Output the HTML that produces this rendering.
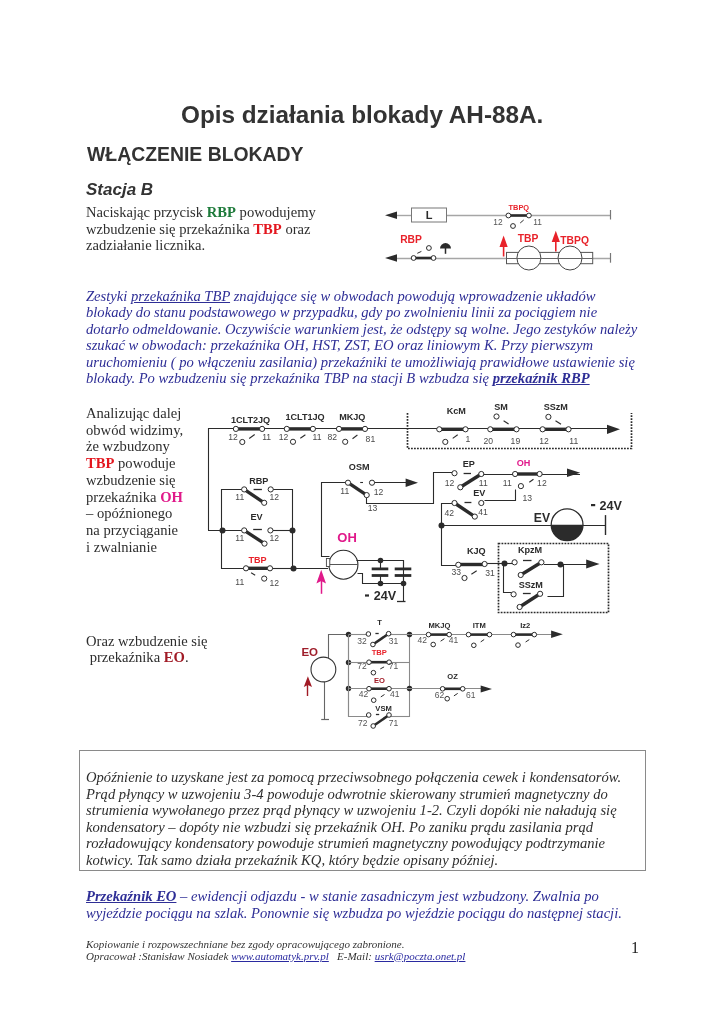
<!DOCTYPE html>
<html><head><meta charset="utf-8">
<style>
html,body{margin:0;padding:0;background:#fff;}
body{width:724px;height:1024px;position:relative;overflow:hidden;-webkit-font-smoothing:antialiased;}
.t,svg{will-change:transform;}
.t{position:absolute;white-space:nowrap;left:86px;}
.sans{font-family:"Liberation Sans",sans-serif;}
.serif{font-family:"Liberation Serif",serif;}
.h1{font:bold 24.3px "Liberation Sans",sans-serif;color:#333;left:181px;top:101px;}
.h2{font:bold 19.4px "Liberation Sans",sans-serif;color:#333;top:143.3px;left:86.5px;}
.h3{font:italic bold 17px "Liberation Sans",sans-serif;color:#333;top:180px;}
.p{font:14.6px/16.5px "Liberation Serif",serif;color:#2e2e2e;}
.bl{font:italic 14.6px/16.4px "Liberation Serif",serif;color:#2e2e96;}
.box{position:absolute;left:79px;top:750px;width:565px;height:119px;border:1px solid #8a8a8a;}
.bx{font:italic 14.6px/16.6px "Liberation Serif",serif;color:#2e2e2e;}
.ft{font:italic 11px/11.6px "Liberation Serif",serif;color:#333;}
.red{color:#e3161e;font-weight:bold;font-style:normal;}
.grn{color:#1d7a3a;font-weight:bold;}
.mag{color:#e0198a;font-weight:bold;}
.drd{color:#a11b26;font-weight:bold;}
svg{position:absolute;left:0;top:0;}
</style></head><body>
<div class="t h1">Opis działania blokady AH-88A.</div>
<div class="t h2">WŁĄCZENIE BLOKADY</div>
<div class="t h3">Stacja B</div>

<div class="t p" style="top:204px">Naciskając przycisk <span class="grn">RBP</span> powodujemy<br>wzbudzenie się przekaźnika <span class="red">TBP</span> oraz<br>zadziałanie licznika.</div>

<div class="t bl" style="top:288px">Zestyki <u>przekaźnika TBP</u> znajdujące się w obwodach powodują wprowadzenie układów<br>blokady do stanu podstawowego w przypadku, gdy po zwolnieniu linii za pociągiem nie<br>dotarło odmeldowanie. Oczywiście warunkiem jest, że odstępy są wolne. Jego zestyków należy<br>szukać w obwodach: przekaźnika OH, HST, ZST, EO oraz liniowym K. Przy pierwszym<br>uruchomieniu ( po włączeniu zasilania) przekaźniki te umożliwiają prawidłowe ustawienie się<br>blokady. Po wzbudzeniu się przekaźnika TBP na stacji B wzbudza się <b><u>przekaźnik RBP</u></b></div>

<div class="t p" style="top:405px;line-height:16.7px">Analizując dalej<br>obwód widzimy,<br>że wzbudzony<br><span class="red">TBP</span> powoduje<br>wzbudzenie się<br>przekaźnika <span class="mag">OH</span><br>– opóźnionego<br>na przyciąganie<br>i zwalnianie</div>

<div class="t p" style="top:633px;line-height:16.2px">Oraz wzbudzenie się<br>&nbsp;przekaźnika <span class="drd">EO</span>.</div>

<div class="box"></div>
<div class="t bx" style="top:769px">Opóźnienie to uzyskane jest za pomocą przeciwsobnego połączenia cewek i kondensatorów.<br>Prąd płynący w uzwojeniu 3-4 powoduje odwrotnie skierowany strumień magnetyczny do<br>strumienia wywołanego przez prąd płynący w uzwojeniu 1-2. Czyli dopóki nie naładują się<br>kondensatory – dopóty nie wzbudzi się przekaźnik OH. Po zaniku prądu zasilania prąd<br>rozładowujący kondensatory powoduje strumień magnetyczny powodujący podtrzymanie<br>kotwicy. Tak samo działa przekaźnik KQ, który będzie opisany później.</div>

<div class="t bl" style="top:887.5px;line-height:16.6px"><b><u>Przekaźnik EO</u></b> – ewidencji odjazdu - w stanie zasadniczym jest wzbudzony. Zwalnia po<br>wyjeździe pociągu na szlak. Ponownie się wzbudza po wjeździe pociągu do następnej stacji.</div>

<div class="t ft" style="top:939px">Kopiowanie i rozpowszechniane bez zgody opracowującego zabronione.<br>Opracował :Stanisław Nosiadek <u style="color:#2a2aa0">www.automatyk.prv.pl</u> &nbsp; E-Mail: <u style="color:#2a2aa0">usrk@poczta.onet.pl</u></div>
<div class="t serif" style="left:631px;top:938.5px;font-size:16px;color:#222">1</div>


















<svg id="dg" width="724" height="1024" viewBox="0 0 724 1024" style="position:absolute;left:0;top:0" font-family="Liberation Sans, sans-serif">
<line x1="396" y1="215.5" x2="411.5" y2="215.5" stroke="#a6a6a6" stroke-width="1.4" />
<line x1="446.5" y1="215.5" x2="610" y2="215.5" stroke="#a6a6a6" stroke-width="1.4" />
<polygon points="397,211.39999999999998 385,215.2 397,219.0" fill="#2b2b2b"/>
<rect x="411.5" y="208" width="35" height="14" fill="#fff" stroke="#777" stroke-width="1"/>
<text x="429" y="218.6" font-size="11" fill="#2b2b2b" font-weight="bold" text-anchor="middle" >L</text>
<line x1="610.5" y1="210" x2="610.5" y2="219.5" stroke="#777" stroke-width="1.2" />
<line x1="508.4" y1="215.5" x2="528.9" y2="215.5" stroke="#2b2b2b" stroke-width="2.6" />
<circle cx="508.4" cy="215.5" r="2.4" fill="#fff" stroke="#2b2b2b" stroke-width="1.0"/>
<circle cx="528.9" cy="215.5" r="2.4" fill="#fff" stroke="#2b2b2b" stroke-width="1.0"/>
<circle cx="513" cy="226" r="2.4" fill="#fff" stroke="#2b2b2b" stroke-width="1.0"/>
<line x1="520.2" y1="223" x2="523.7" y2="220" stroke="#2b2b2b" stroke-width="1.0" />
<text x="518.8" y="210" font-size="7.4" fill="#e8222a" font-weight="bold" text-anchor="middle" >TBPQ</text>
<text x="498" y="224.5" font-size="8.4" fill="#555" font-weight="normal" text-anchor="middle" >12</text>
<text x="537.5" y="224.5" font-size="8.4" fill="#555" font-weight="normal" text-anchor="middle" >11</text>
<line x1="396" y1="258.5" x2="610" y2="258.5" stroke="#a6a6a6" stroke-width="1.4" />
<polygon points="397,254.2 385,258 397,261.8" fill="#2b2b2b"/>
<line x1="610.5" y1="253" x2="610.5" y2="262.7" stroke="#777" stroke-width="1.2" />
<line x1="413.6" y1="258" x2="433.5" y2="258" stroke="#2b2b2b" stroke-width="2.6" />
<circle cx="413.6" cy="258" r="2.4" fill="#fff" stroke="#2b2b2b" stroke-width="1.0"/>
<circle cx="433.5" cy="258" r="2.4" fill="#fff" stroke="#2b2b2b" stroke-width="1.0"/>
<circle cx="428.9" cy="248" r="2.4" fill="#fff" stroke="#2b2b2b" stroke-width="1.0"/>
<line x1="417.3" y1="253.3" x2="421.4" y2="251.4" stroke="#2b2b2b" stroke-width="1.0" />
<path d="M440,248.6 A5.5,5.5 0 0 1 451,248.6 Z" fill="#2b2b2b"/>
<line x1="445.5" y1="248" x2="445.5" y2="253.8" stroke="#2b2b2b" stroke-width="1.5" />
<text x="411" y="243.4" font-size="10.3" fill="#e8222a" font-weight="bold" text-anchor="middle" >RBP</text>
<rect x="506.5" y="252.4" width="86.2" height="11.3" fill="#fff" stroke="#555" stroke-width="1"/>
<circle cx="528.9" cy="258" r="12" fill="#fff" stroke="#444" stroke-width="1.0"/>
<circle cx="570" cy="258" r="12" fill="#fff" stroke="#444" stroke-width="1.0"/>
<line x1="506.5" y1="258.5" x2="592.7" y2="258.5" stroke="#666" stroke-width="1.0" />
<text x="528" y="242.4" font-size="10.3" fill="#e8222a" font-weight="bold" text-anchor="middle" >TBP</text>
<text x="574.6" y="243.5" font-size="10.3" fill="#e8222a" font-weight="bold" text-anchor="middle" >TBPQ</text>
<line x1="503.6" y1="256.5" x2="503.6" y2="244" stroke="#e8222a" stroke-width="1.6" />
<polygon points="499.5,247 503.6,235.6 507.7,247" fill="#e8222a"/>
<line x1="555.8" y1="251.5" x2="555.8" y2="240" stroke="#e8222a" stroke-width="1.6" />
<polygon points="551.7,242 555.8,230.8 559.9,242" fill="#e8222a"/>
<polyline points="208.5,530.5 208.5,428.5 608.5,428.5" fill="none" stroke="#2b2b2b" stroke-width="1.1" />
<polygon points="607,424.7 620,429.3 607,433.90000000000003" fill="#2b2b2b"/>
<line x1="235.9" y1="428.9" x2="262.1" y2="428.9" stroke="#2b2b2b" stroke-width="3.4" />
<circle cx="235.9" cy="428.9" r="2.6" fill="#fff" stroke="#2b2b2b" stroke-width="1.0"/>
<circle cx="262.1" cy="428.9" r="2.6" fill="#fff" stroke="#2b2b2b" stroke-width="1.0"/>
<circle cx="242.3" cy="442" r="2.6" fill="#fff" stroke="#2b2b2b" stroke-width="1.0"/>
<line x1="249.2" y1="438.5" x2="254.7" y2="434.5" stroke="#2b2b2b" stroke-width="1.1" />
<text x="250.5" y="422.5" font-size="9.1" fill="#2b2b2b" font-weight="bold" text-anchor="middle" >1CLT2JQ</text>
<text x="233" y="440" font-size="8.6" fill="#4a4a4a" font-weight="normal" text-anchor="middle" >12</text>
<text x="266.6" y="440" font-size="8.6" fill="#4a4a4a" font-weight="normal" text-anchor="middle" >11</text>
<line x1="286.8" y1="428.9" x2="312.9" y2="428.9" stroke="#2b2b2b" stroke-width="3.4" />
<circle cx="286.8" cy="428.9" r="2.6" fill="#fff" stroke="#2b2b2b" stroke-width="1.0"/>
<circle cx="312.9" cy="428.9" r="2.6" fill="#fff" stroke="#2b2b2b" stroke-width="1.0"/>
<circle cx="293" cy="441.8" r="2.6" fill="#fff" stroke="#2b2b2b" stroke-width="1.0"/>
<line x1="300.3" y1="438.3" x2="305.4" y2="434.8" stroke="#2b2b2b" stroke-width="1.1" />
<text x="305" y="419.8" font-size="9.1" fill="#2b2b2b" font-weight="bold" text-anchor="middle" >1CLT1JQ</text>
<text x="283.6" y="440" font-size="8.6" fill="#4a4a4a" font-weight="normal" text-anchor="middle" >12</text>
<text x="317" y="440" font-size="8.6" fill="#4a4a4a" font-weight="normal" text-anchor="middle" >11</text>
<line x1="339" y1="428.9" x2="365" y2="428.9" stroke="#2b2b2b" stroke-width="3.4" />
<circle cx="339" cy="428.9" r="2.6" fill="#fff" stroke="#2b2b2b" stroke-width="1.0"/>
<circle cx="365" cy="428.9" r="2.6" fill="#fff" stroke="#2b2b2b" stroke-width="1.0"/>
<circle cx="345.2" cy="441.8" r="2.6" fill="#fff" stroke="#2b2b2b" stroke-width="1.0"/>
<line x1="352.5" y1="438.8" x2="357.4" y2="435" stroke="#2b2b2b" stroke-width="1.1" />
<text x="352.3" y="419.8" font-size="9.1" fill="#2b2b2b" font-weight="bold" text-anchor="middle" >MKJQ</text>
<text x="332.2" y="440" font-size="8.6" fill="#4a4a4a" font-weight="normal" text-anchor="middle" >82</text>
<text x="370.4" y="442" font-size="8.6" fill="#4a4a4a" font-weight="normal" text-anchor="middle" >81</text>
<line x1="439.3" y1="429.3" x2="465.5" y2="429.3" stroke="#2b2b2b" stroke-width="3.4" />
<circle cx="439.3" cy="429.3" r="2.6" fill="#fff" stroke="#2b2b2b" stroke-width="1.0"/>
<circle cx="465.5" cy="429.3" r="2.6" fill="#fff" stroke="#2b2b2b" stroke-width="1.0"/>
<circle cx="445.3" cy="441.9" r="2.6" fill="#fff" stroke="#2b2b2b" stroke-width="1.0"/>
<line x1="452.7" y1="438.4" x2="457.7" y2="434.8" stroke="#2b2b2b" stroke-width="1.1" />
<text x="456.3" y="413.6" font-size="9.1" fill="#2b2b2b" font-weight="bold" text-anchor="middle" >KcM</text>
<text x="468" y="442" font-size="8.6" fill="#4a4a4a" font-weight="normal" text-anchor="middle" >1</text>
<line x1="490.3" y1="429.3" x2="516.5" y2="429.3" stroke="#2b2b2b" stroke-width="3.4" />
<circle cx="490.3" cy="429.3" r="2.6" fill="#fff" stroke="#2b2b2b" stroke-width="1.0"/>
<circle cx="516.5" cy="429.3" r="2.6" fill="#fff" stroke="#2b2b2b" stroke-width="1.0"/>
<circle cx="496.5" cy="416.5" r="2.6" fill="#fff" stroke="#2b2b2b" stroke-width="1.0"/>
<line x1="503.6" y1="420.7" x2="508.6" y2="424" stroke="#2b2b2b" stroke-width="1.1" />
<text x="501" y="409.6" font-size="9.1" fill="#2b2b2b" font-weight="bold" text-anchor="middle" >SM</text>
<text x="488.3" y="444" font-size="8.6" fill="#4a4a4a" font-weight="normal" text-anchor="middle" >20</text>
<text x="515.4" y="444" font-size="8.6" fill="#4a4a4a" font-weight="normal" text-anchor="middle" >19</text>
<line x1="542.6" y1="429.3" x2="568.5" y2="429.3" stroke="#2b2b2b" stroke-width="3.4" />
<circle cx="542.6" cy="429.3" r="2.6" fill="#fff" stroke="#2b2b2b" stroke-width="1.0"/>
<circle cx="568.5" cy="429.3" r="2.6" fill="#fff" stroke="#2b2b2b" stroke-width="1.0"/>
<circle cx="548.4" cy="416.9" r="2.6" fill="#fff" stroke="#2b2b2b" stroke-width="1.0"/>
<line x1="555.5" y1="420.7" x2="561" y2="424.3" stroke="#2b2b2b" stroke-width="1.1" />
<text x="555.8" y="410" font-size="9.1" fill="#2b2b2b" font-weight="bold" text-anchor="middle" >SSzM</text>
<text x="544" y="444" font-size="8.6" fill="#4a4a4a" font-weight="normal" text-anchor="middle" >12</text>
<text x="573.8" y="444" font-size="8.6" fill="#4a4a4a" font-weight="normal" text-anchor="middle" >11</text>
<polyline points="407.5,413 407.5,448.5 631.5,448.5 631.5,413" fill="none" stroke="#2b2b2b" stroke-width="1.7" stroke-dasharray="1.8 1.2"/>
<polyline points="244.5,489.5 221.5,489.5 221.5,568.5 246.5,568.5" fill="none" stroke="#2b2b2b" stroke-width="1.1" />
<polyline points="270.5,489.5 292.5,489.5 292.5,568.5" fill="none" stroke="#2b2b2b" stroke-width="1.1" />
<line x1="208" y1="530.5" x2="244.2" y2="530.5" stroke="#2b2b2b" stroke-width="1.1" />
<line x1="270.4" y1="530.5" x2="292" y2="530.5" stroke="#2b2b2b" stroke-width="1.1" />
<circle cx="222.5" cy="530.5" r="3.0" fill="#2b2b2b"/>
<circle cx="292.5" cy="530.5" r="3.0" fill="#2b2b2b"/>
<circle cx="293.5" cy="568.5" r="3.0" fill="#2b2b2b"/>
<line x1="244.2" y1="489.4" x2="264.2" y2="502.8" stroke="#2b2b2b" stroke-width="3.4" />
<circle cx="244.2" cy="489.4" r="2.6" fill="#fff" stroke="#2b2b2b" stroke-width="1.0"/>
<circle cx="270.7" cy="489.4" r="2.6" fill="#fff" stroke="#2b2b2b" stroke-width="1.0"/>
<circle cx="264.2" cy="502.8" r="2.6" fill="#fff" stroke="#2b2b2b" stroke-width="1.0"/>
<line x1="253.6" y1="489.5" x2="261.9" y2="489.5" stroke="#2b2b2b" stroke-width="1.3" />
<text x="258.8" y="483.8" font-size="9.1" fill="#2b2b2b" font-weight="bold" text-anchor="middle" >RBP</text>
<text x="239.7" y="500" font-size="8.6" fill="#4a4a4a" font-weight="normal" text-anchor="middle" >11</text>
<text x="274.2" y="500" font-size="8.6" fill="#4a4a4a" font-weight="normal" text-anchor="middle" >12</text>
<line x1="244.2" y1="530.4" x2="264.5" y2="543.6" stroke="#2b2b2b" stroke-width="3.4" />
<circle cx="244.2" cy="530.4" r="2.6" fill="#fff" stroke="#2b2b2b" stroke-width="1.0"/>
<circle cx="270.4" cy="530.4" r="2.6" fill="#fff" stroke="#2b2b2b" stroke-width="1.0"/>
<circle cx="264.5" cy="543.6" r="2.6" fill="#fff" stroke="#2b2b2b" stroke-width="1.0"/>
<line x1="253.2" y1="529.5" x2="261.9" y2="529.5" stroke="#2b2b2b" stroke-width="1.3" />
<text x="256.5" y="520.4" font-size="9.1" fill="#2b2b2b" font-weight="bold" text-anchor="middle" >EV</text>
<text x="239.7" y="540.5" font-size="8.6" fill="#4a4a4a" font-weight="normal" text-anchor="middle" >11</text>
<text x="274.2" y="540.5" font-size="8.6" fill="#4a4a4a" font-weight="normal" text-anchor="middle" >12</text>
<line x1="246" y1="568.3" x2="270" y2="568.3" stroke="#2b2b2b" stroke-width="3.4" />
<line x1="270" y1="568.5" x2="293" y2="568.5" stroke="#2b2b2b" stroke-width="1.1" />
<circle cx="246" cy="568.3" r="2.6" fill="#fff" stroke="#2b2b2b" stroke-width="1.0"/>
<circle cx="270" cy="568.3" r="2.6" fill="#fff" stroke="#2b2b2b" stroke-width="1.0"/>
<circle cx="264.2" cy="578.6" r="2.6" fill="#fff" stroke="#2b2b2b" stroke-width="1.0"/>
<line x1="251.1" y1="572.8" x2="255.2" y2="575.2" stroke="#2b2b2b" stroke-width="1.1" />
<text x="257.6" y="563.2" font-size="9.1" fill="#e8222a" font-weight="bold" text-anchor="middle" >TBP</text>
<text x="239.7" y="585" font-size="8.6" fill="#4a4a4a" font-weight="normal" text-anchor="middle" >11</text>
<text x="274.2" y="586" font-size="8.6" fill="#4a4a4a" font-weight="normal" text-anchor="middle" >12</text>
<line x1="293" y1="568.5" x2="328" y2="568.5" stroke="#2b2b2b" stroke-width="1.1" />
<polyline points="348.5,482.5 321.5,482.5 321.5,556.5 329.5,556.5" fill="none" stroke="#2b2b2b" stroke-width="1.1" />
<line x1="372" y1="482.5" x2="406" y2="482.5" stroke="#2b2b2b" stroke-width="1.1" />
<polygon points="405.6,478.5 418,482.7 405.6,486.9" fill="#2b2b2b"/>
<line x1="348" y1="482.7" x2="366.7" y2="495.1" stroke="#2b2b2b" stroke-width="3.4" />
<circle cx="348" cy="482.7" r="2.6" fill="#fff" stroke="#2b2b2b" stroke-width="1.0"/>
<circle cx="372" cy="482.7" r="2.6" fill="#fff" stroke="#2b2b2b" stroke-width="1.0"/>
<polyline points="366.5,495.5 366.5,503.5 433.5,503.5 433.5,472.5 454.5,472.5" fill="none" stroke="#2b2b2b" stroke-width="1.1" />
<circle cx="366.7" cy="495.1" r="2.6" fill="#fff" stroke="#2b2b2b" stroke-width="1.0"/>
<line x1="360.2" y1="482.5" x2="363" y2="482.5" stroke="#2b2b2b" stroke-width="1.1" />
<text x="359.2" y="469.8" font-size="9.1" fill="#2b2b2b" font-weight="bold" text-anchor="middle" >OSM</text>
<text x="344.7" y="494" font-size="8.6" fill="#4a4a4a" font-weight="normal" text-anchor="middle" >11</text>
<text x="378.6" y="494.5" font-size="8.6" fill="#4a4a4a" font-weight="normal" text-anchor="middle" >12</text>
<text x="372.5" y="511" font-size="8.6" fill="#4a4a4a" font-weight="normal" text-anchor="middle" >13</text>
<line x1="481.3" y1="474.5" x2="580" y2="474.5" stroke="#2b2b2b" stroke-width="1.1" />
<polygon points="567,468.6 580.2,472.8 567,477.0" fill="#2b2b2b"/>
<line x1="481.3" y1="474" x2="460.3" y2="487.3" stroke="#2b2b2b" stroke-width="3.4" />
<circle cx="454.5" cy="473.2" r="2.6" fill="#fff" stroke="#2b2b2b" stroke-width="1.0"/>
<circle cx="481.3" cy="474" r="2.6" fill="#fff" stroke="#2b2b2b" stroke-width="1.0"/>
<circle cx="460.3" cy="487.3" r="2.6" fill="#fff" stroke="#2b2b2b" stroke-width="1.0"/>
<line x1="463.6" y1="473.5" x2="471" y2="473.5" stroke="#2b2b2b" stroke-width="1.3" />
<text x="468.8" y="467.4" font-size="9.1" fill="#2b2b2b" font-weight="bold" text-anchor="middle" >EP</text>
<text x="449.5" y="486" font-size="8.6" fill="#4a4a4a" font-weight="normal" text-anchor="middle" >12</text>
<text x="483.3" y="486" font-size="8.6" fill="#4a4a4a" font-weight="normal" text-anchor="middle" >11</text>
<line x1="515.1" y1="474" x2="539.6" y2="474" stroke="#2b2b2b" stroke-width="3.4" />
<circle cx="515.1" cy="474" r="2.6" fill="#fff" stroke="#2b2b2b" stroke-width="1.0"/>
<circle cx="539.6" cy="474" r="2.6" fill="#fff" stroke="#2b2b2b" stroke-width="1.0"/>
<circle cx="520.9" cy="486.1" r="2.6" fill="#fff" stroke="#2b2b2b" stroke-width="1.0"/>
<line x1="529.3" y1="482.3" x2="533.5" y2="479.3" stroke="#2b2b2b" stroke-width="1.1" />
<text x="523.6" y="465.7" font-size="9.1" fill="#e0198a" font-weight="bold" text-anchor="middle" >OH</text>
<text x="507.2" y="486" font-size="8.6" fill="#4a4a4a" font-weight="normal" text-anchor="middle" >11</text>
<text x="541.9" y="486" font-size="8.6" fill="#4a4a4a" font-weight="normal" text-anchor="middle" >12</text>
<text x="527.2" y="501.3" font-size="8.6" fill="#4a4a4a" font-weight="normal" text-anchor="middle" >13</text>
<polyline points="515.5,489.5 515.5,500.5 484.5,500.5" fill="none" stroke="#2b2b2b" stroke-width="1.1" />
<polyline points="454.5,503.5 441.5,503.5 441.5,565.5 458.5,565.5" fill="none" stroke="#2b2b2b" stroke-width="1.1" />
<line x1="454.5" y1="503" x2="474.8" y2="516.6" stroke="#2b2b2b" stroke-width="3.4" />
<circle cx="454.5" cy="503" r="2.6" fill="#fff" stroke="#2b2b2b" stroke-width="1.0"/>
<circle cx="481.3" cy="503" r="2.6" fill="#fff" stroke="#2b2b2b" stroke-width="1.0"/>
<circle cx="474.8" cy="516.6" r="2.6" fill="#fff" stroke="#2b2b2b" stroke-width="1.0"/>
<line x1="464.5" y1="502.5" x2="471.4" y2="502.5" stroke="#2b2b2b" stroke-width="1.3" />
<text x="479.2" y="496.4" font-size="9.1" fill="#2b2b2b" font-weight="bold" text-anchor="middle" >EV</text>
<text x="449.2" y="515.5" font-size="8.6" fill="#4a4a4a" font-weight="normal" text-anchor="middle" >42</text>
<text x="483" y="514.5" font-size="8.6" fill="#4a4a4a" font-weight="normal" text-anchor="middle" >41</text>
<line x1="441.6" y1="525.5" x2="606" y2="525.5" stroke="#2b2b2b" stroke-width="1.1" />
<circle cx="441.5" cy="525.5" r="3.0" fill="#2b2b2b"/>
<circle cx="567.1" cy="524.8" r="15.9" fill="#fff" stroke="#2b2b2b" stroke-width="1.3"/>
<path d="M551.2,524.8 A15.9,15.9 0 0 0 583,524.8 Z" fill="#2b2b2b"/>
<text x="542" y="521.6" font-size="12.2" fill="#2b2b2b" font-weight="bold" text-anchor="middle" >EV</text>
<line x1="605.5" y1="515.1" x2="605.5" y2="535" stroke="#2b2b2b" stroke-width="1.4" />
<rect x="591" y="504" width="4.2" height="2.2" fill="#2b2b2b"/>
<text x="610.8" y="509.5" font-size="12.6" fill="#2b2b2b" font-weight="bold" text-anchor="middle" >24V</text>
<line x1="458.3" y1="564.5" x2="484.6" y2="564.5" stroke="#2b2b2b" stroke-width="3.4" />
<line x1="484.6" y1="563.5" x2="514.6" y2="563.5" stroke="#2b2b2b" stroke-width="1.1" />
<circle cx="458.3" cy="564.8" r="2.6" fill="#fff" stroke="#2b2b2b" stroke-width="1.0"/>
<circle cx="484.6" cy="564" r="2.6" fill="#fff" stroke="#2b2b2b" stroke-width="1.0"/>
<circle cx="464.5" cy="578" r="2.6" fill="#fff" stroke="#2b2b2b" stroke-width="1.0"/>
<line x1="471.4" y1="574.2" x2="476.7" y2="570.7" stroke="#2b2b2b" stroke-width="1.1" />
<text x="476.3" y="553.8" font-size="9.1" fill="#2b2b2b" font-weight="bold" text-anchor="middle" >KJQ</text>
<text x="456.2" y="575" font-size="8.6" fill="#4a4a4a" font-weight="normal" text-anchor="middle" >33</text>
<text x="490.1" y="576" font-size="8.6" fill="#4a4a4a" font-weight="normal" text-anchor="middle" >31</text>
<circle cx="504.5" cy="563.5" r="3.0" fill="#2b2b2b"/>
<line x1="541.4" y1="562.3" x2="520.7" y2="575" stroke="#2b2b2b" stroke-width="3.4" />
<circle cx="514.6" cy="562.3" r="2.6" fill="#fff" stroke="#2b2b2b" stroke-width="1.0"/>
<circle cx="541.4" cy="562.3" r="2.6" fill="#fff" stroke="#2b2b2b" stroke-width="1.0"/>
<circle cx="520.7" cy="575" r="2.6" fill="#fff" stroke="#2b2b2b" stroke-width="1.0"/>
<line x1="523" y1="560.5" x2="531.5" y2="560.5" stroke="#2b2b2b" stroke-width="1.3" />
<text x="530" y="553" font-size="9.1" fill="#2b2b2b" font-weight="bold" text-anchor="middle" >KpzM</text>
<line x1="544" y1="564.5" x2="587" y2="564.5" stroke="#2b2b2b" stroke-width="1.1" />
<circle cx="560.5" cy="564.5" r="3.0" fill="#2b2b2b"/>
<polygon points="586.2,559.6 599.5,564 586.2,568.4" fill="#2b2b2b"/>
<polyline points="563.5,564.5 563.5,596.5 547.5,596.5" fill="none" stroke="#2b2b2b" stroke-width="1.1" />
<polyline points="503.5,563.5 503.5,592.5 511.5,592.5" fill="none" stroke="#2b2b2b" stroke-width="1.1" />
<line x1="540.1" y1="593.8" x2="519.6" y2="607" stroke="#2b2b2b" stroke-width="3.4" />
<circle cx="513.6" cy="594.3" r="2.6" fill="#fff" stroke="#2b2b2b" stroke-width="1.0"/>
<circle cx="540.1" cy="593.8" r="2.6" fill="#fff" stroke="#2b2b2b" stroke-width="1.0"/>
<circle cx="519.6" cy="607" r="2.6" fill="#fff" stroke="#2b2b2b" stroke-width="1.0"/>
<line x1="522.9" y1="593.5" x2="530.7" y2="593.5" stroke="#2b2b2b" stroke-width="1.3" />
<text x="530.8" y="588.3" font-size="9.1" fill="#2b2b2b" font-weight="bold" text-anchor="middle" >SSzM</text>
<rect x="498.5" y="543.5" width="110" height="69" fill="none" stroke="#2b2b2b" stroke-width="1.7" stroke-dasharray="1.8 1.2"/>
<circle cx="343.4" cy="564.7" r="14.5" fill="#fff" stroke="#2b2b2b" stroke-width="1.1"/>
<line x1="329" y1="564.5" x2="357.8" y2="564.5" stroke="#555" stroke-width="1.0" />
<rect x="326.4" y="558.5" width="3.4" height="8" fill="#fff" stroke="#444" stroke-width="0.9"/>
<polyline points="356.5,560.5 403.5,560.5 403.5,601.5" fill="none" stroke="#2b2b2b" stroke-width="1.1" />
<line x1="397" y1="601.5" x2="405.5" y2="601.5" stroke="#2b2b2b" stroke-width="1.3" />
<polyline points="357.5,573.5 362.5,573.5 362.5,583.5 403.5,583.5" fill="none" stroke="#2b2b2b" stroke-width="1.1" />
<line x1="371.7" y1="568.9" x2="388.3" y2="568.9" stroke="#2b2b2b" stroke-width="2.8" />
<line x1="371.7" y1="575.5" x2="388.3" y2="575.5" stroke="#2b2b2b" stroke-width="2.8" />
<line x1="380.5" y1="560.3" x2="380.5" y2="568.9" stroke="#2b2b2b" stroke-width="1.1" />
<line x1="380.5" y1="575.5" x2="380.5" y2="583.5" stroke="#2b2b2b" stroke-width="1.1" />
<line x1="394.7" y1="568.9" x2="411.3" y2="568.9" stroke="#2b2b2b" stroke-width="2.8" />
<line x1="394.7" y1="575.5" x2="411.3" y2="575.5" stroke="#2b2b2b" stroke-width="2.8" />
<line x1="403.5" y1="560.3" x2="403.5" y2="568.9" stroke="#2b2b2b" stroke-width="1.1" />
<line x1="403.5" y1="575.5" x2="403.5" y2="583.5" stroke="#2b2b2b" stroke-width="1.1" />
<circle cx="380.5" cy="560.5" r="2.8" fill="#2b2b2b"/>
<circle cx="380.5" cy="583.5" r="2.8" fill="#2b2b2b"/>
<circle cx="403.5" cy="583.5" r="2.8" fill="#2b2b2b"/>
<text x="347.1" y="542" font-size="13" fill="#e0198a" font-weight="bold" text-anchor="middle" >OH</text>
<rect x="365" y="594.4" width="4.0" height="2.2" fill="#2b2b2b"/>
<text x="385" y="600.4" font-size="12.6" fill="#2b2b2b" font-weight="bold" text-anchor="middle" >24V</text>
<line x1="321.5" y1="593.8" x2="321.5" y2="580" stroke="#e0198a" stroke-width="1.5" />
<path d="M321.2,569.7 L326,583.5 L321.2,581 L316.4,583.5 Z" fill="#e0198a"/>
<polyline points="348.5,634.5 328.5,634.5 328.5,659.5" fill="none" stroke="#666" stroke-width="1.1" />
<line x1="324.5" y1="682" x2="324.5" y2="719.7" stroke="#666" stroke-width="1.1" />
<line x1="321.2" y1="719.5" x2="329" y2="719.5" stroke="#666" stroke-width="1.2" />
<circle cx="323.4" cy="669.5" r="12.4" fill="#fff" stroke="#333" stroke-width="1.1"/>
<text x="309.7" y="656" font-size="11.5" fill="#9e1d2a" font-weight="bold" text-anchor="middle" >EO</text>
<line x1="307.5" y1="696" x2="307.5" y2="684" stroke="#a11b26" stroke-width="1.4" />
<path d="M307.9,676.3 L312,687 L307.9,685 L303.8,687 Z" fill="#a11b26"/>
<line x1="348.5" y1="634.3" x2="348.5" y2="717" stroke="#8a8a8a" stroke-width="1.1" />
<line x1="409.5" y1="634.3" x2="409.5" y2="717" stroke="#8a8a8a" stroke-width="1.1" />
<circle cx="348.5" cy="634.5" r="2.7" fill="#2b2b2b"/>
<circle cx="348.5" cy="662.5" r="2.7" fill="#2b2b2b"/>
<circle cx="348.5" cy="688.5" r="2.7" fill="#2b2b2b"/>
<circle cx="409.5" cy="634.5" r="2.7" fill="#2b2b2b"/>
<circle cx="409.5" cy="688.5" r="2.7" fill="#2b2b2b"/>
<line x1="348.8" y1="634.5" x2="368.4" y2="634.5" stroke="#8a8a8a" stroke-width="1.1" />
<line x1="388.6" y1="634.5" x2="409.4" y2="634.5" stroke="#8a8a8a" stroke-width="1.1" />
<line x1="388.6" y1="633.7" x2="372.9" y2="644.5" stroke="#2b2b2b" stroke-width="2.6" />
<circle cx="368.4" cy="634" r="2.3" fill="#fff" stroke="#2b2b2b" stroke-width="1.0"/>
<circle cx="388.6" cy="633.7" r="2.3" fill="#fff" stroke="#2b2b2b" stroke-width="1.0"/>
<circle cx="372.9" cy="644.5" r="2.3" fill="#fff" stroke="#2b2b2b" stroke-width="1.0"/>
<line x1="375.4" y1="633.5" x2="378.7" y2="633.5" stroke="#2b2b2b" stroke-width="1.3" />
<text x="379.5" y="625.3" font-size="7.6" fill="#2b2b2b" font-weight="bold" text-anchor="middle" >T</text>
<text x="362.1" y="643.5" font-size="8.5" fill="#555" font-weight="normal" text-anchor="middle" >32</text>
<text x="393.5" y="643.5" font-size="8.5" fill="#555" font-weight="normal" text-anchor="middle" >31</text>
<text x="379.3" y="654.8" font-size="7.6" fill="#e8222a" font-weight="bold" text-anchor="middle" >TBP</text>
<line x1="348.8" y1="662.5" x2="369" y2="662.5" stroke="#8a8a8a" stroke-width="1.1" />
<line x1="389.1" y1="662.5" x2="409.4" y2="662.5" stroke="#8a8a8a" stroke-width="1.1" />
<line x1="369" y1="662.2" x2="389.1" y2="662.2" stroke="#2b2b2b" stroke-width="2.6" />
<circle cx="369" cy="662.2" r="2.3" fill="#fff" stroke="#2b2b2b" stroke-width="1.0"/>
<circle cx="389.1" cy="662.2" r="2.3" fill="#fff" stroke="#2b2b2b" stroke-width="1.0"/>
<circle cx="373.4" cy="672.7" r="2.3" fill="#fff" stroke="#2b2b2b" stroke-width="1.0"/>
<line x1="380.3" y1="668.9" x2="384.1" y2="666.9" stroke="#2b2b2b" stroke-width="1.0" />
<text x="362.1" y="669.2" font-size="8.5" fill="#555" font-weight="normal" text-anchor="middle" >72</text>
<text x="393.5" y="669.2" font-size="8.5" fill="#555" font-weight="normal" text-anchor="middle" >71</text>
<text x="379.5" y="683" font-size="7.6" fill="#a11b26" font-weight="bold" text-anchor="middle" >EO</text>
<line x1="348.8" y1="688.5" x2="442.6" y2="688.5" stroke="#8a8a8a" stroke-width="1.1" />
<line x1="369" y1="688.7" x2="389" y2="688.7" stroke="#2b2b2b" stroke-width="2.6" />
<circle cx="369" cy="688.7" r="2.3" fill="#fff" stroke="#2b2b2b" stroke-width="1.0"/>
<circle cx="389" cy="688.7" r="2.3" fill="#fff" stroke="#2b2b2b" stroke-width="1.0"/>
<circle cx="373.7" cy="700.2" r="2.3" fill="#fff" stroke="#2b2b2b" stroke-width="1.0"/>
<line x1="380.8" y1="696.9" x2="384.5" y2="694.5" stroke="#2b2b2b" stroke-width="1.0" />
<text x="363.6" y="696.8" font-size="8.5" fill="#555" font-weight="normal" text-anchor="middle" >42</text>
<text x="394.8" y="696.8" font-size="8.5" fill="#555" font-weight="normal" text-anchor="middle" >41</text>
<polyline points="348.5,634.5 348.5,716.5 368.5,716.5" fill="none" stroke="#8a8a8a" stroke-width="1.1" />
<line x1="389" y1="716.5" x2="409.4" y2="716.5" stroke="#8a8a8a" stroke-width="1.1" />
<line x1="389" y1="715" x2="373.2" y2="726" stroke="#2b2b2b" stroke-width="2.6" />
<circle cx="368.7" cy="715" r="2.3" fill="#fff" stroke="#2b2b2b" stroke-width="1.0"/>
<circle cx="389" cy="715" r="2.3" fill="#fff" stroke="#2b2b2b" stroke-width="1.0"/>
<circle cx="373.2" cy="726" r="2.3" fill="#fff" stroke="#2b2b2b" stroke-width="1.0"/>
<line x1="375.9" y1="714.5" x2="379.2" y2="714.5" stroke="#2b2b2b" stroke-width="1.3" />
<text x="383.6" y="711.4" font-size="7.6" fill="#2b2b2b" font-weight="bold" text-anchor="middle" >VSM</text>
<text x="362.7" y="726" font-size="8.5" fill="#555" font-weight="normal" text-anchor="middle" >72</text>
<text x="393.5" y="726.2" font-size="8.5" fill="#555" font-weight="normal" text-anchor="middle" >71</text>
<line x1="409.4" y1="634.5" x2="552" y2="634.5" stroke="#8a8a8a" stroke-width="1.1" />
<polygon points="551.1,630.5 562.8,634.2 551.1,637.9000000000001" fill="#2b2b2b"/>
<line x1="428.5" y1="634.6" x2="449.2" y2="634.6" stroke="#2b2b2b" stroke-width="2.6" />
<circle cx="428.5" cy="634.6" r="2.3" fill="#fff" stroke="#2b2b2b" stroke-width="1.0"/>
<circle cx="449.2" cy="634.6" r="2.3" fill="#fff" stroke="#2b2b2b" stroke-width="1.0"/>
<circle cx="433.2" cy="644.5" r="2.3" fill="#fff" stroke="#2b2b2b" stroke-width="1.0"/>
<line x1="440.6" y1="641.2" x2="444.4" y2="638.7" stroke="#2b2b2b" stroke-width="1.0" />
<text x="439.4" y="627.6" font-size="7.6" fill="#2b2b2b" font-weight="bold" text-anchor="middle" >MKJQ</text>
<line x1="468.5" y1="634.6" x2="489.5" y2="634.6" stroke="#2b2b2b" stroke-width="2.6" />
<circle cx="468.5" cy="634.6" r="2.3" fill="#fff" stroke="#2b2b2b" stroke-width="1.0"/>
<circle cx="489.5" cy="634.6" r="2.3" fill="#fff" stroke="#2b2b2b" stroke-width="1.0"/>
<circle cx="473.8" cy="645.3" r="2.3" fill="#fff" stroke="#2b2b2b" stroke-width="1.0"/>
<line x1="480.7" y1="641.9" x2="484.2" y2="639.5" stroke="#2b2b2b" stroke-width="1.0" />
<text x="479.2" y="627.6" font-size="7.6" fill="#2b2b2b" font-weight="bold" text-anchor="middle" >ITM</text>
<line x1="513.5" y1="634.6" x2="534.3" y2="634.6" stroke="#2b2b2b" stroke-width="2.6" />
<circle cx="513.5" cy="634.6" r="2.3" fill="#fff" stroke="#2b2b2b" stroke-width="1.0"/>
<circle cx="534.3" cy="634.6" r="2.3" fill="#fff" stroke="#2b2b2b" stroke-width="1.0"/>
<circle cx="518" cy="645.1" r="2.3" fill="#fff" stroke="#2b2b2b" stroke-width="1.0"/>
<line x1="525.6" y1="642" x2="529.3" y2="639.6" stroke="#2b2b2b" stroke-width="1.0" />
<text x="525.2" y="627.6" font-size="7.6" fill="#2b2b2b" font-weight="bold" text-anchor="middle" >Iz2</text>
<text x="422.3" y="642.7" font-size="8.5" fill="#555" font-weight="normal" text-anchor="middle" >42</text>
<text x="453.6" y="642.7" font-size="8.5" fill="#555" font-weight="normal" text-anchor="middle" >41</text>
<line x1="409.4" y1="688.5" x2="481" y2="688.5" stroke="#8a8a8a" stroke-width="1.1" />
<polygon points="480.7,685.4 492,689 480.7,692.6" fill="#2b2b2b"/>
<line x1="442.6" y1="688.8" x2="462.7" y2="688.8" stroke="#2b2b2b" stroke-width="2.6" />
<circle cx="442.6" cy="688.8" r="2.3" fill="#fff" stroke="#2b2b2b" stroke-width="1.0"/>
<circle cx="462.7" cy="688.8" r="2.3" fill="#fff" stroke="#2b2b2b" stroke-width="1.0"/>
<circle cx="447.2" cy="698.7" r="2.3" fill="#fff" stroke="#2b2b2b" stroke-width="1.0"/>
<line x1="453.9" y1="695.9" x2="457.7" y2="693.4" stroke="#2b2b2b" stroke-width="1.0" />
<text x="452.6" y="678.8" font-size="7.6" fill="#2b2b2b" font-weight="bold" text-anchor="middle" >OZ</text>
<text x="439.5" y="697.8" font-size="8.5" fill="#555" font-weight="normal" text-anchor="middle" >62</text>
<text x="470.8" y="697.8" font-size="8.5" fill="#555" font-weight="normal" text-anchor="middle" >61</text>
</svg>
</body></html>
